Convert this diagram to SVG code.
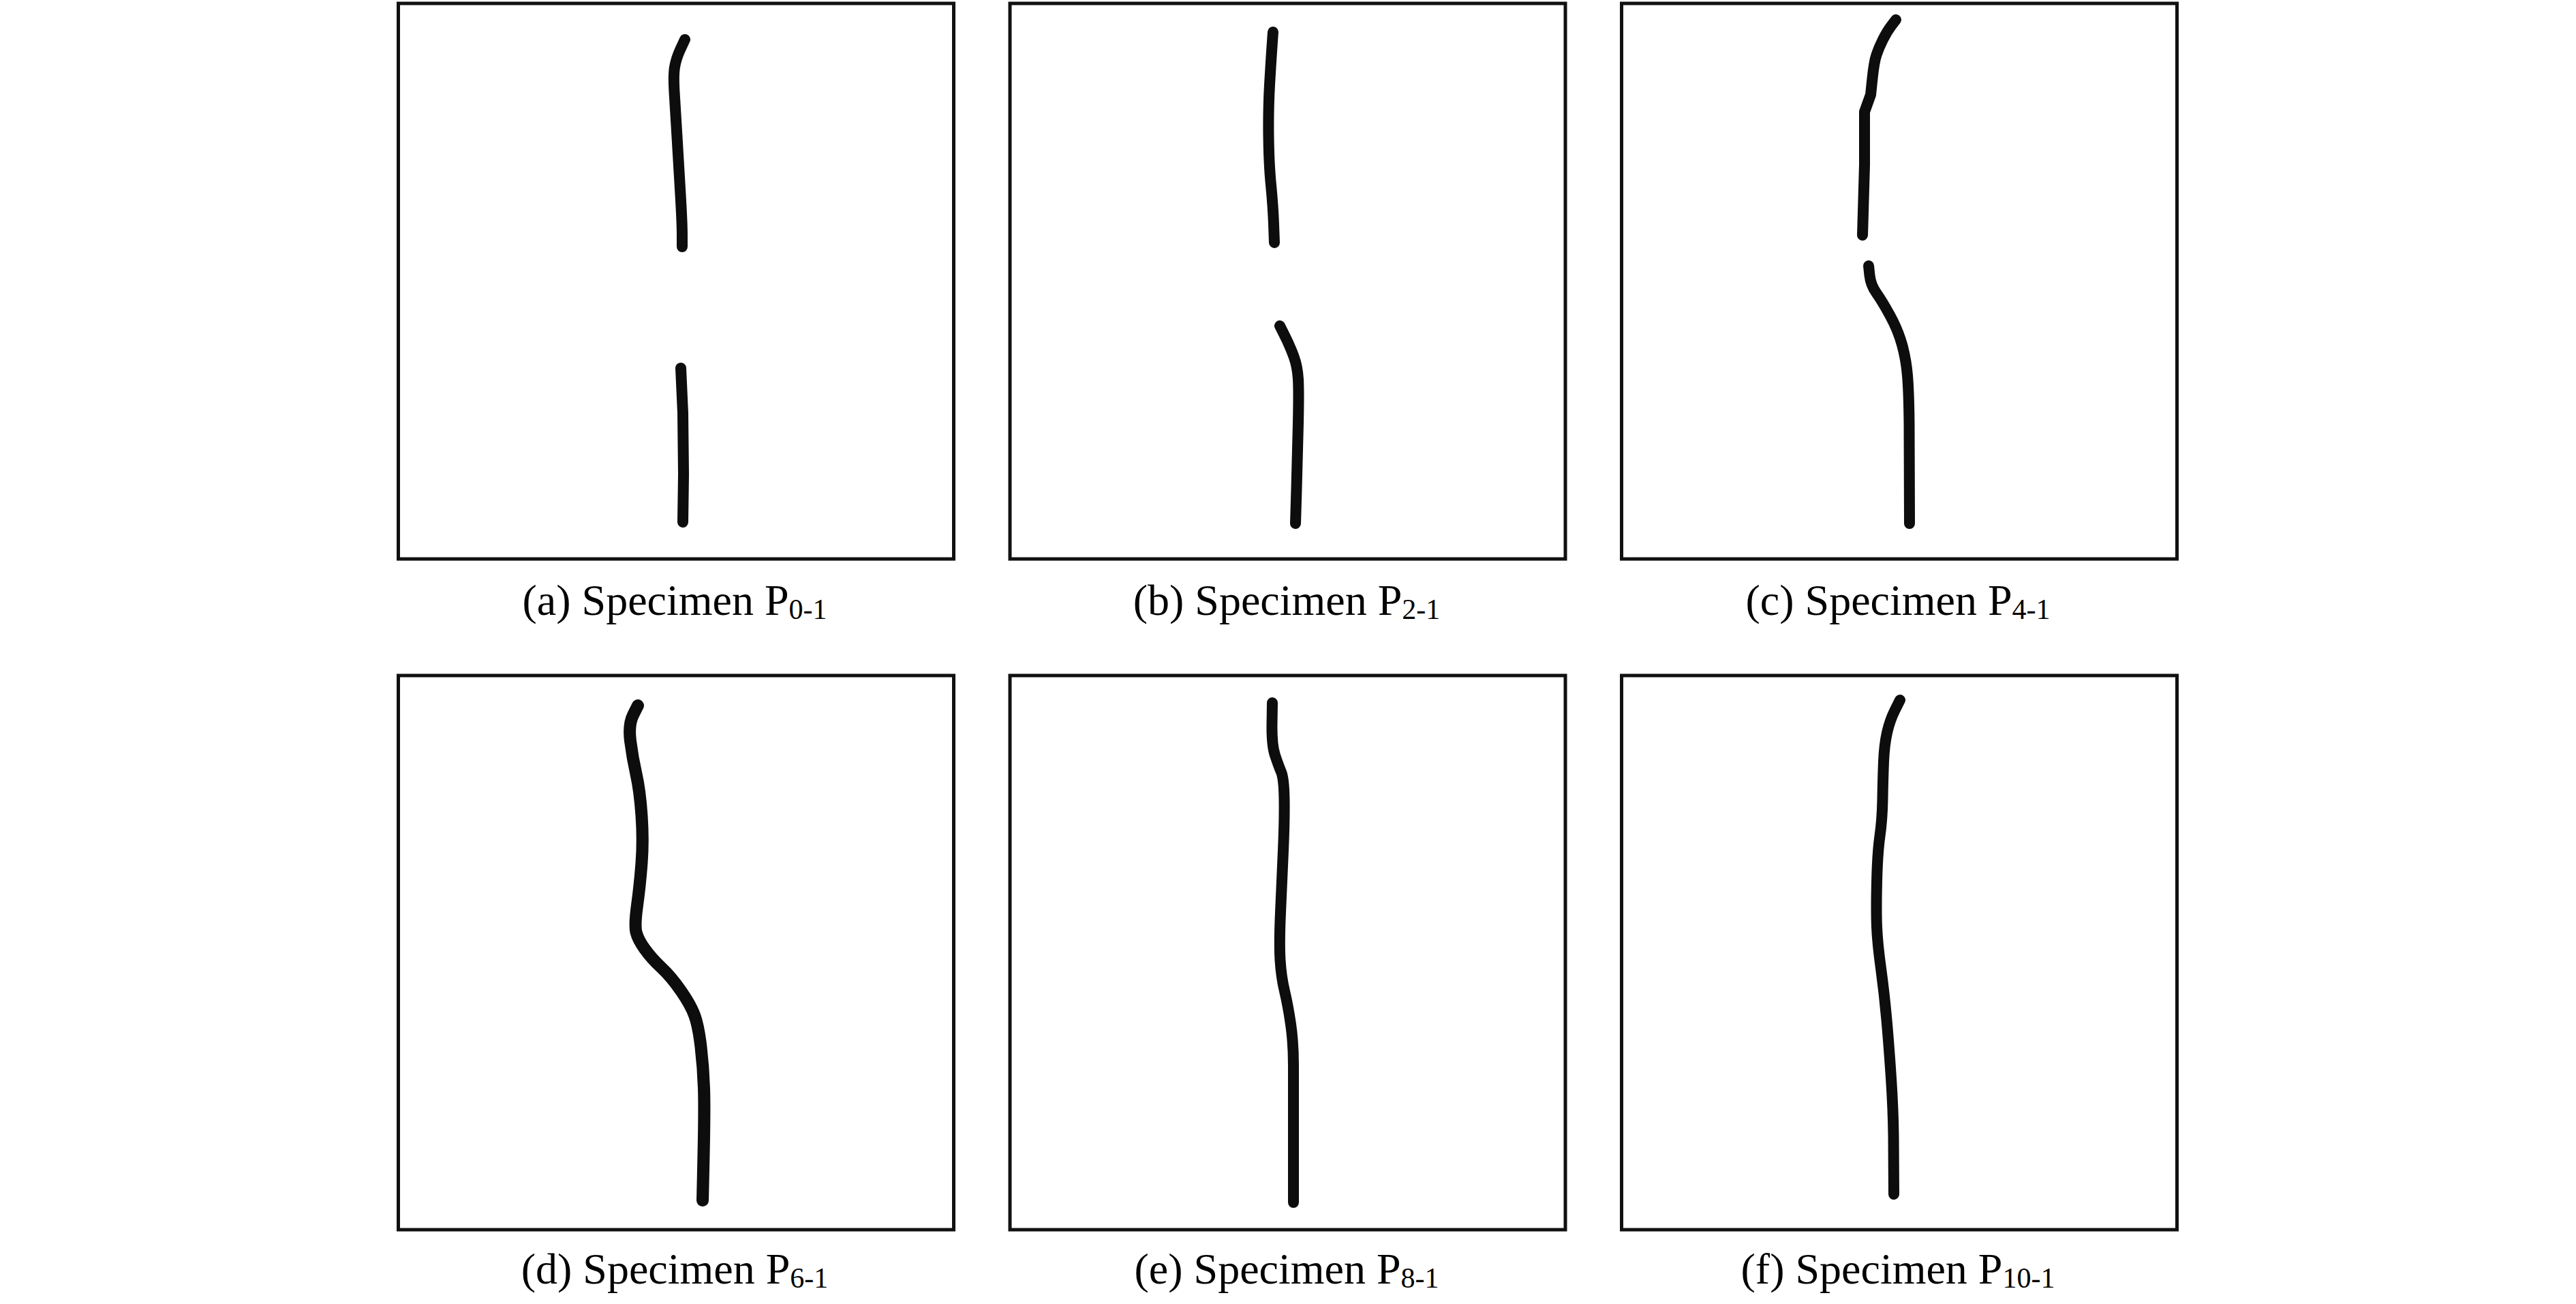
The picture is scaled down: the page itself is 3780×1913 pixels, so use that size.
<svg xmlns="http://www.w3.org/2000/svg" width="3780" height="1913" viewBox="0 0 3780 1913">
<style>
.box{fill:#fff;stroke:#111;stroke-width:5}
.crack{fill:none;stroke:#0d0d0d;stroke-width:16;stroke-linecap:round;stroke-linejoin:round}
.cap{font-family:"Liberation Serif","Times New Roman",serif;font-size:64px;fill:#000;text-anchor:middle}
.sub{font-size:42px}
</style>
<rect width="3780" height="1913" fill="#fff"/>
<g id="panel-a">
<rect class="box" x="584.5" y="5" width="815" height="815"/>
<path class="crack" d="M1005,58 L998.5,72 Q992,86 990,98.5 Q988,111 989.5,135 Q991,159 993.5,201 Q996,243 998.5,285.5 Q1001,328 1001,345 L1001,362"/>
<path class="crack" d="M999,540 L1002,606 L1003,696 L1002,766"/>
<text class="cap" x="990" y="902">(a) Specimen P<tspan class="sub" dy="6">0-1</tspan></text>
</g>
<g id="panel-b">
<rect class="box" x="1482" y="5" width="815" height="815"/>
<path class="crack" d="M1868,47 L1866.5,68.5 Q1865,90 1863,124.5 Q1861,159 1861.5,200 Q1862,241 1865,271.5 Q1868,302 1869,329 L1870,356"/>
<path class="crack" d="M1878,478 L1885.5,493 Q1893,508 1898.5,523 Q1904,538 1905,556.5 Q1906,575 1905,620.5 Q1904,666 1902.5,717 L1901,768"/>
<text class="cap" x="1888" y="902">(b) Specimen P<tspan class="sub" dy="6">2-1</tspan></text>
</g>
<g id="panel-c">
<rect class="box" x="2379.5" y="5" width="815" height="815"/>
<path class="crack" d="M2782,29 L2775.5,37.5 Q2769,46 2763,58 Q2757,70 2753.5,80.5 Q2750,91 2747.5,115 L2745,139 L2736,164 L2736,242 L2733,345"/>
<path class="crack" d="M2742,390 L2743.5,404 Q2745,418 2753.5,430 Q2762,442 2773.5,463 Q2785,484 2791,505.5 Q2797,527 2799,551 Q2801,575 2801.5,620.5 L2802,768"/>
<text class="cap" x="2785" y="902">(c) Specimen P<tspan class="sub" dy="6">4-1</tspan></text>
</g>
<g id="panel-d">
<rect class="box" x="584.5" y="991" width="815" height="813"/>
<path class="crack" style="stroke-width:18" d="M936,1035 L929,1049 Q922,1063 925,1087 Q928,1111 933.5,1135.5 Q939,1160 941.5,1196.5 Q944,1233 941.5,1266 Q939,1299 935,1328 Q931,1357 933.5,1367.5 Q936,1378 946,1392 Q956,1406 970.5,1419.5 Q985,1433 999.5,1454 Q1014,1475 1019.5,1490.5 Q1025,1506 1028.5,1536 Q1032,1566 1033,1596.5 Q1034,1627 1032.5,1694 L1031,1761"/>
<text class="cap" x="990" y="1883">(d) Specimen P<tspan class="sub" dy="6">6-1</tspan></text>
</g>
<g id="panel-e">
<rect class="box" x="1482" y="991" width="815" height="813"/>
<path class="crack" d="M1867,1031 L1866.5,1062 Q1866,1093 1871,1108 Q1876,1123 1880,1132.5 Q1884,1142 1884.5,1172 Q1885,1202 1883,1247.5 Q1881,1293 1879,1338.5 Q1877,1384 1878.5,1408.5 Q1880,1433 1885,1454 Q1890,1475 1894,1502.5 Q1898,1530 1898,1563.5 L1898,1764"/>
<text class="cap" x="1888" y="1883">(e) Specimen P<tspan class="sub" dy="6">8-1</tspan></text>
</g>
<g id="panel-f">
<rect class="box" x="2379.5" y="991" width="815" height="813"/>
<path class="crack" d="M2788,1027 L2780.5,1042 Q2773,1057 2769,1075 Q2765,1093 2764,1117.5 Q2763,1142 2762.5,1172 Q2762,1202 2758.5,1226.5 Q2755,1251 2754,1293.5 Q2753,1336 2754,1360 Q2755,1384 2760,1420.5 Q2765,1457 2768.5,1496.5 Q2772,1536 2775,1581.5 Q2778,1627 2778.5,1666.5 L2779,1752"/>
<text class="cap" x="2785" y="1883">(f) Specimen P<tspan class="sub" dy="6">10-1</tspan></text>
</g>
<g id="connectors"/>
</svg>
